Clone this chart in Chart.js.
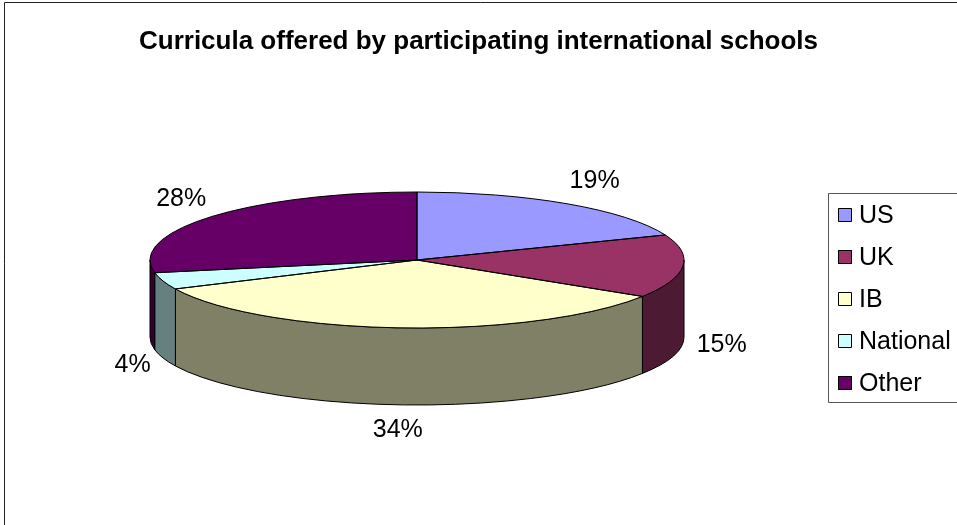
<!DOCTYPE html>
<html>
<head>
<meta charset="utf-8">
<script src="https://cdn.jsdelivr.net/npm/chart.js@4"></script>
<style>
  html, body { margin: 0; padding: 0; background: #fff; }
  #chart { display: block; }
</style>
</head>
<body>
<canvas id="chart" width="957" height="525"></canvas>
<script>
const categories = ['US', 'UK', 'IB', 'National', 'Other'];
const shares = [19, 15, 34, 4, 28];
const sliceColors = ['#9999FF', '#993366', '#FFFFCC', '#CCFFFF', '#660066'];

const FONT = '"Liberation Sans", Arial, sans-serif';

// where the tilted pie sits on the page
const CX = 417, CY = 260, RX = 267, RY = 68, DEPTH = 77;

const darken = (hex, f) => {
  const n = parseInt(hex.slice(1), 16);
  const r = Math.round(((n >> 16) & 255) * f);
  const g = Math.round(((n >> 8) & 255) * f);
  const b = Math.round((n & 255) * f);
  return `rgb(${r},${g},${b})`;
};

const pie3d = {
  id: 'pie3d',
  beforeDatasetsDraw(chart) {
    const ctx = chart.ctx;
    const arcs = chart.getDatasetMeta(0).data;

    // outer wall, only the front half is visible
    ctx.save();
    ctx.lineWidth = 1;
    ctx.strokeStyle = '#000';
    ctx.lineJoin = 'round';
    arcs.forEach((arc, i) => {
      [0, 2 * Math.PI].forEach(base => {
        const a0 = Math.max(arc.startAngle, base);
        const a1 = Math.min(arc.endAngle, base + Math.PI);
        if (a1 <= a0) return;
        ctx.beginPath();
        ctx.ellipse(CX, CY, RX, RY, 0, a0, a1);
        ctx.ellipse(CX, CY + DEPTH, RX, RY, 0, a1, a0, true);
        ctx.closePath();
        ctx.fillStyle = darken(sliceColors[i], 0.5);
        ctx.fill();
        ctx.stroke();
      });
    });
    ctx.restore();

    // squash the library's round pie into the top face
    const a = arcs[0];
    ctx.save();
    ctx.translate(CX, CY);
    ctx.scale(RX / a.outerRadius, RY / a.outerRadius);
    ctx.translate(-a.x, -a.y);
  },
  afterDatasetsDraw(chart) {
    const ctx = chart.ctx;
    ctx.restore();
    const arcs = chart.getDatasetMeta(0).data;
    const values = chart.data.datasets[0].data;
    const total = values.reduce((s, v) => s + v, 0);

    // top face outlines
    ctx.save();
    ctx.lineWidth = 1;
    ctx.strokeStyle = '#000';
    ctx.lineJoin = 'round';
    arcs.forEach(arc => {
      ctx.beginPath();
      ctx.moveTo(CX, CY);
      ctx.ellipse(CX, CY, RX, RY, 0, arc.startAngle, arc.endAngle);
      ctx.closePath();
      ctx.stroke();
    });

    // percentage labels
    ctx.font = `25px ${FONT}`;
    ctx.fillStyle = '#000';
    ctx.textAlign = 'center';
    ctx.textBaseline = 'middle';
    arcs.forEach((arc, i) => {
      const m = (arc.startAngle + arc.endAngle) / 2;
      const c = Math.cos(m), s = Math.sin(m);
      const txt = Math.round(values[i] / total * 100) + '%';
      const hw = ctx.measureText(txt).width / 2;
      const px = CX + RX * c;
      const py = CY + RY * s + (s > 0 ? DEPTH : 0);
      const gx = c > 0 && s < 0 ? 24 : 14;
      ctx.fillText(txt, px + c * (gx + hw), py + s * (14 + 12) - 1);
    });

    // legend
    ctx.strokeStyle = '#555';
    ctx.strokeRect(828.5, 193.5, 200, 209);
    ctx.textAlign = 'left';
    chart.data.labels.forEach((lab, i) => {
      const y = 215 + i * 42;
      ctx.fillStyle = sliceColors[i];
      ctx.fillRect(838, y - 7, 14, 14);
      ctx.strokeStyle = '#000';
      ctx.strokeRect(838.5, y - 6.5, 13, 13);
      ctx.fillStyle = '#000';
      ctx.fillText(lab, 859, y + 1);
    });

    // chart frame
    ctx.strokeStyle = '#222';
    ctx.beginPath();
    ctx.moveTo(4.5, 525);
    ctx.lineTo(4.5, 2.5);
    ctx.lineTo(957, 2.5);
    ctx.stroke();
    ctx.restore();
  }
};

new Chart(document.getElementById('chart').getContext('2d'), {
  type: 'pie',
  data: {
    labels: categories,
    datasets: [{
      data: shares,
      backgroundColor: sliceColors,
      borderWidth: 0,
      clip: false
    }]
  },
  options: {
    responsive: false,
    devicePixelRatio: 1,
    animation: false,
    events: [],
    layout: { padding: 0 },
    plugins: {
      legend: { display: false },
      tooltip: { enabled: false },
      title: {
        display: true,
        text: 'Curricula offered by participating international schools',
        color: '#000',
        font: { family: FONT, size: 26, weight: 'bold' },
        padding: { top: 26, bottom: 0 }
      }
    }
  },
  plugins: [pie3d]
});
</script>
</body>
</html>
